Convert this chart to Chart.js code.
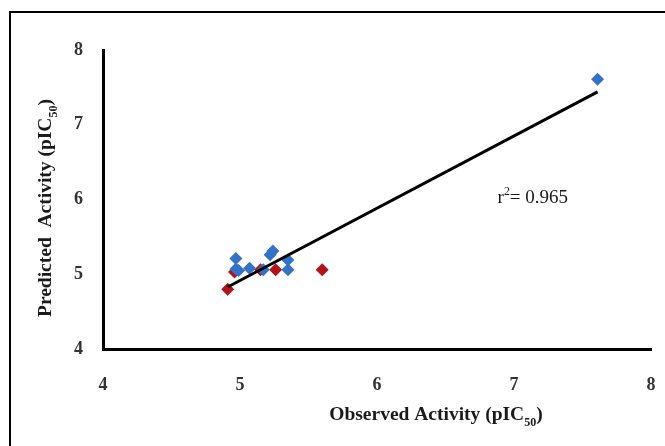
<!DOCTYPE html>
<html>
<head>
<meta charset="utf-8">
<script src="https://cdn.jsdelivr.net/npm/chart.js@4/dist/chart.umd.min.js"></script>
<style>
  html, body { margin: 0; padding: 0; background: #fff; }
  #wrap { position: relative; width: 665px; height: 446px; }
</style>
</head>
<body>
<div id="wrap"><canvas id="qsarChart" width="665" height="446"></canvas></div>
<script>
// training set (blue) and test set (red), observed vs predicted pIC50
const trainObserved = [4.97, 4.97, 4.99, 5.07, 5.17, 5.22, 5.24, 5.35, 5.35, 7.61];
const trainPredicted = [5.21, 5.07, 5.05, 5.08, 5.06, 5.26, 5.31, 5.19, 5.06, 7.61];
const testObserved = [4.91, 4.96, 5.15, 5.26, 5.60];
const testPredicted = [4.80, 5.03, 5.06, 5.06, 5.06];

// fitted line end points
const fitX = [4.91, 7.61];
const fitY = [4.83, 7.44];

const axisTicks = [4, 5, 6, 7, 8];
const rSquared = '0.965';

const toPoints = (xs, ys) => xs.map((x, i) => ({ x: x, y: ys[i] }));

const serif = '"Liberation Serif", "Times New Roman", serif';

// draws text with a subscript/superscript piece, centred on (x, y)
function richText(ctx, parts, x, y, size, angle, align) {
  ctx.save();
  ctx.translate(x, y);
  ctx.rotate(angle || 0);
  ctx.textBaseline = 'alphabetic';
  let w = 0;
  parts.forEach(p => {
    ctx.font = p.font(p.small ? size * 0.62 : size);
    p.w = ctx.measureText(p.t).width;
    w += p.w;
  });
  let cx = align === 'left' ? 0 : -w / 2;
  parts.forEach(p => {
    ctx.font = p.font(p.small ? size * 0.62 : size);
    ctx.fillText(p.t, cx, (p.off || 0) * size);
    cx += p.w;
  });
  ctx.restore();
}

const bold = s => 'bold ' + s + 'px ' + serif;
const plain = s => s + 'px ' + serif;

const extras = {
  id: 'extras',
  beforeDraw(chart) {
    const ctx = chart.ctx;
    ctx.save();
    ctx.fillStyle = '#000';
    ctx.fillRect(9, 11, 656, 2);
    ctx.fillRect(9, 11, 2, 435);
    ctx.restore();
  },
  afterDraw(chart) {
    const ctx = chart.ctx;
    const xs = chart.scales.x, ys = chart.scales.y;
    ctx.save();
    ctx.fillStyle = '#1a1a1a';
    richText(ctx, [
      { t: 'Observed Activity (pIC', font: bold },
      { t: '50', font: bold, small: true, off: 0.3 },
      { t: ')', font: bold }
    ], 436, 420, 19.5, 0);
    richText(ctx, [
      { t: 'Predicted  Activity (pIC', font: bold },
      { t: '50', font: bold, small: true, off: 0.3 },
      { t: ')', font: bold }
    ], 51, 208, 19.5, -Math.PI / 2);
    richText(ctx, [
      { t: 'r', font: plain },
      { t: '2', font: plain, small: true, off: -0.45 },
      { t: '= ' + rSquared, font: plain }
    ], xs.getPixelForValue(6.88), ys.getPixelForValue(5.95), 19, 0, 'left');
    ctx.restore();
  }
};

new Chart(document.getElementById('qsarChart'), {
  type: 'scatter',
  data: {
    datasets: [{
      label: 'Fit',
      type: 'line',
      data: toPoints(fitX, fitY),
      borderColor: '#000',
      borderWidth: 3,
      pointRadius: 0,
      fill: false,
      order: 0
    }, {
      label: 'Training set',
      data: toPoints(trainObserved, trainPredicted),
      pointStyle: 'rectRot',
      pointRadius: 6.5,
      pointBorderWidth: 0,
      backgroundColor: '#3472c6',
      borderColor: '#3472c6',
      order: 1
    }, {
      label: 'Test set',
      data: toPoints(testObserved, testPredicted),
      pointStyle: 'rectRot',
      pointRadius: 6.5,
      pointBorderWidth: 0,
      backgroundColor: '#b0141a',
      borderColor: '#b0141a',
      order: 1
    }]
  },
  options: {
    responsive: false,
    animation: false,
    layout: { padding: { left: 0, top: 50, right: 14, bottom: 0 } },
    plugins: {
      legend: { display: false },
      tooltip: { enabled: false }
    },
    scales: {
      x: {
        type: 'linear',
        min: 4,
        max: 8,
        afterBuildTicks: s => { s.ticks = axisTicks.map(v => ({ value: v })); },
        afterFit: s => { s.height = 97; s.paddingLeft = 0; s.paddingRight = 0; },
        grid: { display: false, drawTicks: false },
        border: { color: '#000', width: 3 },
        ticks: {
          padding: 26,
          color: '#333',
          font: { family: serif, size: 18, weight: 'bold' }
        }
      },
      y: {
        type: 'linear',
        min: 4,
        max: 8,
        afterBuildTicks: s => { s.ticks = axisTicks.map(v => ({ value: v })); },
        afterFit: s => { s.width = 103; s.paddingTop = 0; s.paddingBottom = 0; },
        grid: { display: false, drawTicks: false },
        border: { color: '#000', width: 3 },
        ticks: {
          padding: 20,
          color: '#333',
          font: { family: serif, size: 18, weight: 'bold' }
        }
      }
    }
  },
  plugins: [extras]
});
</script>
</body>
</html>
